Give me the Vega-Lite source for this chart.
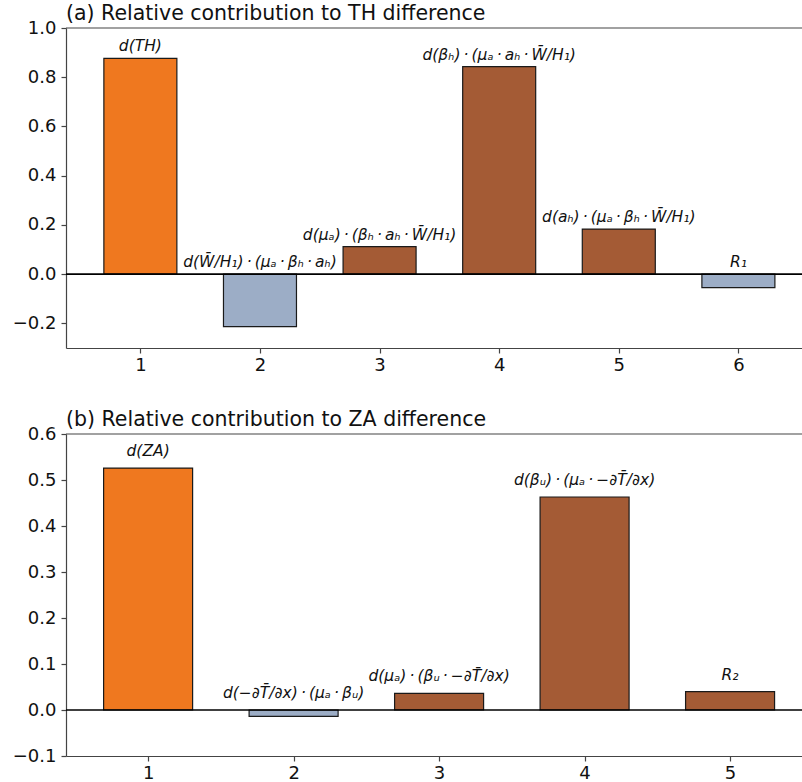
{
  "$schema": "https://vega.github.io/schema/vega-lite/v6.json",
  "padding": {"left": 12, "top": 3, "right": 0, "bottom": 0},
  "background": "white",
  "spacing": 35,
  "datasets": {
    "a": [
      {"x": 1, "value": 0.877, "kind": "total", "label": "d(TH)"},
      {"x": 2, "value": -0.213, "kind": "negative", "label": "d(W̄/H₁)\u2009·\u2009(μₐ\u2009·\u2009βₕ\u2009·\u2009aₕ)"},
      {"x": 3, "value": 0.112, "kind": "positive", "label": "d(μₐ)\u2009·\u2009(βₕ\u2009·\u2009aₕ\u2009·\u2009W̄/H₁)"},
      {"x": 4, "value": 0.843, "kind": "positive", "label": "d(βₕ)\u2009·\u2009(μₐ\u2009·\u2009aₕ\u2009·\u2009W̄/H₁)"},
      {"x": 5, "value": 0.183, "kind": "positive", "label": "d(aₕ)\u2009·\u2009(μₐ\u2009·\u2009βₕ\u2009·\u2009W̄/H₁)"},
      {"x": 6, "value": -0.055, "kind": "negative", "label": "R₁"}
    ],
    "b": [
      {"x": 1, "value": 0.526, "kind": "total", "label": "d(ZA)"},
      {"x": 2, "value": -0.014, "kind": "negative", "label": "d(−∂T̄/∂x)\u2009·\u2009(μₐ\u2009·\u2009βᵤ)"},
      {"x": 3, "value": 0.036, "kind": "positive", "label": "d(μₐ)\u2009·\u2009(βᵤ\u2009·\u2009−∂T̄/∂x)"},
      {"x": 4, "value": 0.463, "kind": "positive", "label": "d(βᵤ)\u2009·\u2009(μₐ\u2009·\u2009−∂T̄/∂x)"},
      {"x": 5, "value": 0.040, "kind": "positive", "label": "R₂"}
    ]
  },
  "vconcat": [
    {
      "title": {"text": "(a) Relative contribution to TH difference"},
      "width": 736,
      "height": 320,
      "data": {"name": "a"},
      "layer": [
        {
          "mark": {"type": "bar", "size": 73, "stroke": "#1a1a1a", "strokeWidth": 1.2},
          "encoding": {
            "x": {"field": "x", "type": "quantitative", "title": null,
                  "scale": {"domain": [0.42, 6.49], "nice": false, "zero": false},
                  "axis": {"values": [1, 2, 3, 4, 5, 6], "format": "d", "labelPadding": 3}},
            "y": {"field": "value", "type": "quantitative", "title": null,
                  "scale": {"domain": [-0.3, 1.0], "nice": false, "zero": false},
                  "axis": {"values": [-0.2, 0, 0.2, 0.4, 0.6, 0.8, 1.0], "labelExpr": "replace(format(datum.value, '.1f'), '-', '−')"}},
            "color": {"field": "kind", "type": "nominal", "legend": null,
                      "scale": {"domain": ["total", "positive", "negative"], "range": ["#EF781F", "#A45B35", "#9CADC6"]}}
          }
        },
        {
          "data": {"values": [{}]},
          "mark": {"type": "rule", "color": "#000000", "strokeWidth": 1.6},
          "encoding": {"y": {"datum": 0}}
        },
        {
          "data": {"values": [{}]},
          "mark": {"type": "rule", "color": "#444444", "strokeWidth": 1.2},
          "encoding": {"y": {"datum": 1.0}}
        },
        {
          "transform": [{"filter": "datum.value >= 0"}],
          "mark": {"type": "text", "font": "DejaVu Sans", "fontStyle": "italic", "fontSize": 15.5, "baseline": "alphabetic", "dy": -7, "color": "#111111"},
          "encoding": {
            "x": {"field": "x", "type": "quantitative"},
            "y": {"field": "value", "type": "quantitative"},
            "text": {"field": "label"}
          }
        },
        {
          "transform": [{"filter": "datum.value < 0"}],
          "mark": {"type": "text", "font": "DejaVu Sans", "fontStyle": "italic", "fontSize": 15.5, "baseline": "alphabetic", "dy": -7, "color": "#111111"},
          "encoding": {
            "x": {"field": "x", "type": "quantitative"},
            "y": {"datum": 0},
            "text": {"field": "label"}
          }
        }
      ]
    },
    {
      "title": {"text": "(b) Relative contribution to ZA difference"},
      "width": 736,
      "height": 322,
      "data": {"name": "b"},
      "layer": [
        {
          "mark": {"type": "bar", "size": 89, "stroke": "#1a1a1a", "strokeWidth": 1.2},
          "encoding": {
            "x": {"field": "x", "type": "quantitative", "title": null,
                  "scale": {"domain": [0.47, 5.46], "nice": false, "zero": false},
                  "axis": {"values": [1, 2, 3, 4, 5], "format": "d", "labelPadding": 3}},
            "y": {"field": "value", "type": "quantitative", "title": null,
                  "scale": {"domain": [-0.1, 0.6], "nice": false, "zero": false},
                  "axis": {"values": [-0.1, 0, 0.1, 0.2, 0.3, 0.4, 0.5, 0.6], "labelExpr": "replace(format(datum.value, '.1f'), '-', '−')"}},
            "color": {"field": "kind", "type": "nominal", "legend": null,
                      "scale": {"domain": ["total", "positive", "negative"], "range": ["#EF781F", "#A45B35", "#9CADC6"]}}
          }
        },
        {
          "data": {"values": [{}]},
          "mark": {"type": "rule", "color": "#000000", "strokeWidth": 1.6},
          "encoding": {"y": {"datum": 0}}
        },
        {
          "data": {"values": [{}]},
          "mark": {"type": "rule", "color": "#444444", "strokeWidth": 1.2},
          "encoding": {"y": {"datum": 0.6}}
        },
        {
          "transform": [{"filter": "datum.value >= 0"}],
          "mark": {"type": "text", "font": "DejaVu Sans", "fontStyle": "italic", "fontSize": 15.5, "baseline": "alphabetic", "dy": -12, "color": "#111111"},
          "encoding": {
            "x": {"field": "x", "type": "quantitative"},
            "y": {"field": "value", "type": "quantitative"},
            "text": {"field": "label"}
          }
        },
        {
          "transform": [{"filter": "datum.value < 0"}],
          "mark": {"type": "text", "font": "DejaVu Sans", "fontStyle": "italic", "fontSize": 15.5, "baseline": "alphabetic", "dy": -12, "color": "#111111"},
          "encoding": {
            "x": {"field": "x", "type": "quantitative"},
            "y": {"datum": 0},
            "text": {"field": "label"}
          }
        }
      ]
    }
  ],
  "config": {
    "view": {"stroke": null},
    "font": "DejaVu Sans",
    "axis": {
      "grid": false,
      "labelFont": "DejaVu Sans",
      "labelFontSize": 18,
      "labelColor": "#111111",
      "domainColor": "#444444",
      "domainWidth": 1.2,
      "tickColor": "#444444",
      "tickWidth": 1.2,
      "tickSize": 5,
      "labelPadding": 5
    },
    "title": {
      "font": "DejaVu Sans",
      "fontSize": 20.5,
      "fontWeight": "normal",
      "color": "#111111",
      "anchor": "start",
      "frame": "group",
      "offset": -5
    }
  }
}
